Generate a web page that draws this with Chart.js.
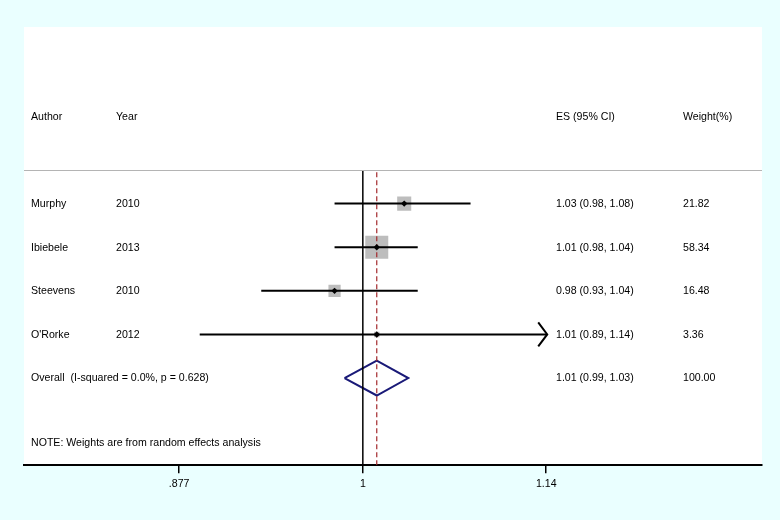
<!DOCTYPE html>
<html>
<head>
<meta charset="utf-8">
<script src="https://cdn.jsdelivr.net/npm/chart.js@4.4.1/dist/chart.umd.min.js"></script>
<style>
  html, body { margin: 0; padding: 0; background: #eaffff; }
  #wrap { width: 780px; height: 520px; }
</style>
</head>
<body>
<div id="wrap"><canvas id="forest" width="780" height="520"></canvas></div>
<script>
// study data
const authors = ["Murphy", "Ibiebele", "Steevens", "O'Rorke"];
const years = ["2010", "2013", "2010", "2012"];
const es = [1.03, 1.01, 0.98, 1.01];
const ciLow = [0.98, 0.98, 0.93, 0.89];
const ciHigh = [1.08, 1.04, 1.04, 1.141];
const weights = [21.82, 58.34, 16.48, 3.36];
const esLabels = ["1.03 (0.98, 1.08)", "1.01 (0.98, 1.04)", "0.98 (0.93, 1.04)", "1.01 (0.89, 1.14)"];
const weightLabels = ["21.82", "58.34", "16.48", "3.36"];

const overallLabel = "Overall  (I-squared = 0.0%, p = 0.628)";
const overallEs = 1.01;
const overallLow = 0.987;
const overallHigh = 1.033;
const overallEsLabel = "1.01 (0.99, 1.03)";
const overallWeight = "100.00";
const note = "NOTE: Weights are from random effects analysis";

const tickValues = [0.877, 1, 1.14];
const tickLabels = [".877", "1", "1.14"];

const xMin = 0.785, xMax = 1.33;
const overallRow = authors.length;
const noteRow = 5.47;
const headerRow = -2;
const headerLineRow = -0.77;

const FONT = '"Liberation Sans", Arial, sans-serif';
const datasets = [];

// CI lines
authors.forEach((a, i) => {
    datasets.push({
        data: [{x: ciLow[i], y: i}, {x: Math.min(ciHigh[i], 1.14), y: i}],
        showLine: true, borderColor: '#000', borderWidth: 2, pointRadius: 0, order: 1
    });
});

// reference line at 1
datasets.push({
    data: [{x: 1, y: headerLineRow}, {x: 1, y: 6.05}],
    showLine: true, borderColor: '#000', borderWidth: 1.5, pointRadius: 0, order: 1
});

// overall effect dashed line
datasets.push({
    data: [{x: overallEs, y: headerLineRow + 0.05}, {x: overallEs, y: 6.05}],
    showLine: true, borderColor: '#a3282b', borderWidth: 1.2, borderDash: [5, 3], pointRadius: 0, order: 1
});

// weight squares
datasets.push({
    data: es.map((v, i) => ({x: v, y: i})),
    pointStyle: 'rect',
    pointRadius: weights.map(w => 2.13 * Math.sqrt(w)),
    backgroundColor: '#bdbdbd', borderWidth: 0, order: 2
});

// point estimates
datasets.push({
    data: es.map((v, i) => ({x: v, y: i})),
    pointStyle: 'rectRot', pointRadius: 3.2,
    backgroundColor: '#000', borderColor: '#000', borderWidth: 0, order: 0
});

// overall diamond
datasets.push({
    data: [
        {x: overallLow, y: overallRow},
        {x: overallEs, y: overallRow - 0.4},
        {x: overallHigh, y: overallRow},
        {x: overallEs, y: overallRow + 0.4},
        {x: overallLow, y: overallRow}
    ],
    showLine: true, borderColor: '#1a1a78', borderWidth: 2, pointRadius: 0, tension: 0, order: 1
});

const textPlugin = {
    id: 'forestText',
    beforeDraw(chart) {
        const {ctx, chartArea: a} = chart;
        ctx.save();
        ctx.fillStyle = '#fff';
        ctx.fillRect(a.left, a.top, a.right - a.left, a.bottom - a.top);
        ctx.restore();
    },
    afterDatasetsDraw(chart) {
        const {ctx, chartArea: a, scales: {x, y}} = chart;
        ctx.save();
        // header separator
        const hy = Math.round(y.getPixelForValue(headerLineRow)) + 0.5;
        ctx.strokeStyle = '#b4b4b4';
        ctx.lineWidth = 1;
        ctx.beginPath();
        ctx.moveTo(a.left, hy);
        ctx.lineTo(a.right, hy);
        ctx.stroke();

        // arrows for clipped CIs
        ctx.strokeStyle = '#000';
        ctx.lineWidth = 2;
        ciHigh.forEach((h, i) => {
            if (h > 1.14) {
                const px = x.getPixelForValue(1.14) + 1;
                const py = y.getPixelForValue(i);
                ctx.beginPath();
                ctx.moveTo(px - 9, py - 12);
                ctx.lineTo(px, py);
                ctx.lineTo(px - 9, py + 12);
                ctx.stroke();
            }
        });

        ctx.fillStyle = '#000';
        ctx.font = '10.6px ' + FONT;
        ctx.textBaseline = 'middle';
        const col = [a.left + 7, a.left + 92, a.left + 532, a.left + 659];
        const row = r => y.getPixelForValue(r) + 0.5;

        ctx.fillText('Author', col[0], row(headerRow));
        ctx.fillText('Year', col[1], row(headerRow));
        ctx.fillText('ES (95% CI)', col[2], row(headerRow));
        ctx.fillText('Weight(%)', col[3], row(headerRow));

        authors.forEach((name, i) => {
            ctx.fillText(name, col[0], row(i));
            ctx.fillText(years[i], col[1], row(i));
            ctx.fillText(esLabels[i], col[2], row(i));
            ctx.fillText(weightLabels[i], col[3], row(i));
        });
        ctx.fillText(overallLabel, col[0], row(overallRow));
        ctx.fillText(overallEsLabel, col[2], row(overallRow));
        ctx.fillText(overallWeight, col[3], row(overallRow));
        ctx.fillText(note, col[0], row(noteRow));
        ctx.restore();
    }
};

new Chart(document.getElementById('forest').getContext('2d'), {
    type: 'scatter',
    data: {datasets: datasets},
    options: {
        responsive: false,
        animation: false,
        layout: {padding: {left: 24, right: 18, top: 27, bottom: 26}},
        plugins: {legend: {display: false}, tooltip: {enabled: false}},
        scales: {
            x: {
                type: 'logarithmic',
                min: xMin, max: xMax,
                afterBuildTicks: scale => {
                    scale.ticks = tickValues.map(v => ({value: v}));
                },
                ticks: {
                    autoSkip: false, maxRotation: 0, color: '#000', padding: 4,
                    font: {family: FONT, size: 10.6},
                    callback: (v, i) => tickLabels[i]
                },
                grid: {drawOnChartArea: false, drawTicks: true, tickLength: 8, color: '#000', lineWidth: 1.5},
                border: {color: '#000', width: 2}
            },
            y: {
                display: false, reverse: true, min: -4.05, max: 6.0
            }
        }
    },
    plugins: [textPlugin]
});
</script>
</body>
</html>
